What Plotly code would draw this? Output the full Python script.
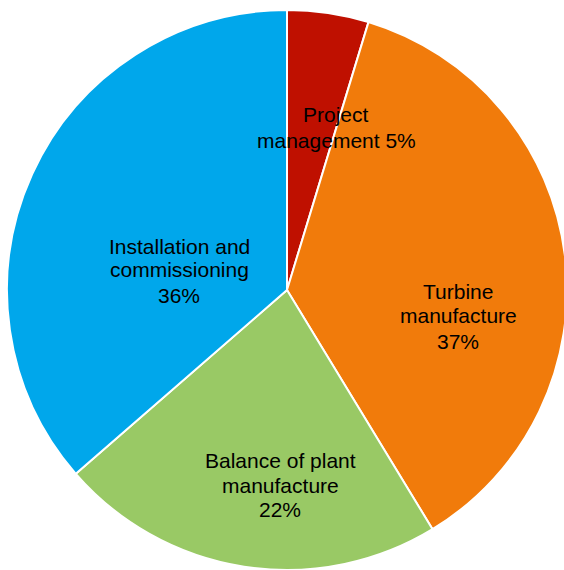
import plotly.graph_objects as go

labels = ["Project management", "Turbine manufacture", "Balance of plant manufacture", "Installation and commissioning"]
values = [4.7, 36.6, 22.3, 36.4]
label_lines = [["Project", "management 5%"], ["Turbine", "manufacture", "37%"],
               ["Balance of plant", "manufacture", "22%"], ["Installation and", "commissioning", "36%"]]
colors = ["#BF1000", "#F17B0B", "#99C965", "#00A7EB"]

W, H = 576, 570
# label line centres in pixels (x, [y of each line])
label_pos = [(336, [115, 140]), (458, [291, 316, 341]), (280, [460, 485, 509]), (179, [246, 270, 295])]

fig = go.Figure(go.Pie(
    labels=labels, values=values, sort=False, direction="clockwise", rotation=0,
    marker=dict(colors=colors, line=dict(color="white", width=2)),
    textinfo="none", hoverinfo="label+percent", showlegend=False,
    domain=dict(x=[7 / W, 567 / W], y=[0.0, 560 / H]),
))

for lines, (px, ys) in zip(label_lines, label_pos):
    for line, py in zip(lines, ys):
        fig.add_annotation(
            x=px / W, y=1 - py / H, xref="paper", yref="paper",
            text=line, showarrow=False,
            font=dict(family="Liberation Sans, Arial, sans-serif", size=21, color="black"),
            align="center", xanchor="center", yanchor="middle",
        )

fig.update_layout(width=W, height=H, margin=dict(l=0, r=0, t=0, b=0),
                  paper_bgcolor="white", plot_bgcolor="white")
fig.write_html("out.html", config={"displayModeBar": False},
               post_script="document.body.style.margin='0';document.body.style.overflow='hidden';")
